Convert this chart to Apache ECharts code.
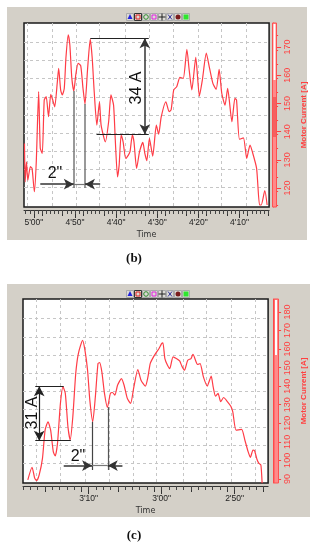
<!DOCTYPE html>
<html><head><meta charset="utf-8">
<style>html,body{margin:0;padding:0;background:#fff}#c{width:316px;height:550px}</style>
<script src="https://cdn.jsdelivr.net/npm/echarts@6/dist/echarts.min.js"></script>
</head><body><div id="c"></div>
<script>
// Panel (b)
const timeB = [302.28,302.12,301.8,301.48,300.84,300.44,299.88,299.4,298.84,298.44,297.96,297.48,297,296.44,295.89,295.41,294.93,294.29,293.97,293.49,293.09,292.61,292.21,291.65,291.25,290.77,290.29,289.81,289.25,288.61,288.05,287.57,286.93,286.29,285.81,285.33,284.69,284.05,283.65,282.62,281.82,281.26,280.62,280.22,279.66,279.26,278.78,278.3,277.66,277.02,276.62,276.06,275.66,275.02,274.3,273.5,273.02,272.54,271.9,271.1,270.22,269.66,269.02,267.9,267.11,266.63,265.99,265.27,264.47,263.67,262.79,262.23,261.59,260.63,259.75,259.03,258.07,257.27,256.47,255.67,254.95,254.31,253.52,252.88,251.84,251.12,250.72,250,249.04,248.24,247.44,246.88,245.84,245.12,244.72,243.84,243.28];
const currentB = [135.8,122.2,129.3,122.8,127.6,127,118.7,129.9,154.2,134.1,132.3,151.2,152.4,145.3,153.2,151.2,148.8,157.7,162.4,154.8,153,155.3,166,174.3,170.7,158.9,154.4,160.1,164.2,163.4,155.3,149.7,162.4,172.8,166,154.2,142.3,150.6,142.3,136.4,143.5,153,149.4,137.6,124,128.2,138.8,136.4,130.5,131.7,132.9,138.8,136.4,127,132.9,136.2,132.3,129.7,137.6,131.3,142.3,139.1,145.3,150.6,147.1,147.7,154.8,155.9,159.2,158.9,169.2,161.8,154.8,166.3,152.6,158.3,167.8,162.4,157.1,155,162.1,153.6,149.4,155.3,143.5,151.8,151.2,137.3,137.8,130.5,135.2,132.9,127,114,114,119.1,114];
const timeTicksB = [300,290,280,270,260,250];
const timeLabelsB = ['5\'00"','4\'50"','4\'40"','4\'30"','4\'20"','4\'10"'];
const currentTicksB = [120,130,140,150,160,170];
const gridTimesB = [301.56,295.56,289.81,284.05,277.82,272.06,266.07,260.07,254.32,248.32];
const gridCurrentsB = [171.8,165.4,159,152.3,145.9,139.5,133.1,126.7,120.4];
// Panel (c)
const timeC = [198.34,197.76,197.4,197.13,196.78,196.33,195.97,195.57,195.21,194.85,194.58,194.27,193.87,193.51,193.2,192.84,192.53,192.17,191.77,191.41,190.83,190.51,190.15,189.84,189.44,189.08,188.72,188.5,188.19,187.83,187.43,187.02,186.75,186.4,186.04,185.5,185.14,184.7,184.25,183.8,183.26,182.82,182.23,181.87,181.56,181.11,180.67,180.35,180,179.82,179.55,179.19,178.88,178.43,177.98,177.53,177.22,176.86,176.42,175.97,175.7,175.07,174.72,174.27,173.73,173.51,173.2,172.93,172.61,172.26,171.9,171.5,170.96,170.51,170.24,169.79,169.03,168.59,168.14,167.83,167.47,167.25,166.93,166.66,166.39,166.22];
const currentC = [89.5,96.3,90.4,89.1,92.2,101.1,116.3,120.8,116.3,104.7,102.4,109.2,130.7,139.6,136.1,118.1,111,123.5,146.8,157.6,164.7,159.4,148.6,132.5,120.8,134.3,152.2,152.7,147.7,136.1,128.5,136.1,136.6,135.2,140.5,144.1,140.5,133.4,130.7,139.6,149,143.2,140,145,152.2,155.8,158.5,160.3,162.9,163.3,154.9,151.3,149.5,155.8,154.9,153.6,150.8,148.6,154,154.9,157.2,151.7,152.2,145,140,142.3,145.4,139.6,134.6,136.1,131.6,133.9,131.6,129.2,126.2,116.3,116.7,111,104.7,101.6,105.6,105.2,100.6,98.4,97.5,87.7];
const timeTicksC = [190,180,170];
const timeLabelsC = ['3\'10"','3\'00"','2\'50"'];
const currentTicksC = [90,100,110,120,130,140,150,160,170,180];
const gridTimesC = [197.18,193.83,190.47,187.11,183.89,180.67,177.05,173.83,170.47,167.11];
const gridCurrentsC = [176.6,166.3,156.7,147,137.3,127.6,118,108.3,98.6];

const RED = '#ff4040', GRAY = '#d4d0c8', DARK = '#666';
const seq = (a, b, s) => { const r = []; for (let v = a; v <= b + 1e-6; v += s) r.push(v); return r; };

function hline(t1, t2, i, w, arrowEnd, color) {
  return [{coord:[t1,i],symbol:'none',lineStyle:{color:color||'#222',width:w,type:'solid'}},
          {coord:[t2,i],symbol:arrowEnd?'arrow':'none',symbolSize:[8,10]}];
}
function vline(t, i1, i2, w, arrowStart, arrowEnd, color) {
  return [{coord:[t,i1],symbol:arrowStart?'arrow':'none',symbolSize:[8,10],lineStyle:{color:color||DARK,width:w,type:'solid'}},
          {coord:[t,i2],symbol:arrowEnd?'arrow':'none',symbolSize:[8,10]}];
}
const annotB = [
  hline(286.28,272.06,173.1,1),
  hline(284.77,272.06,139.1,1),
  vline(273.02,173.1,139.1,1.5,true,true,'#333'),
  vline(290.29,154.4,120,1.5,false,false,'#777'),
  vline(287.58,149.8,120,1.5,false,false,'#777'),
  hline(298.44,290.29,121.4,1.5,true,'#333'),
  hline(283.88,287.58,121.4,1.5,true,'#333'),
  hline(290.29,287.58,121.4,1.2,false,'#777')
];
const annotC = [
  hline(197.32,193.42,140,1),
  hline(197.32,192.44,110.6,1),
  vline(196.78,140,110.6,1.2,true,true,'#222'),
  vline(189.53,120.8,94.8,1.2,false,false,'#444'),
  vline(187.38,128.7,94.8,1.2,false,false,'#555'),
  hline(193.42,189.53,97.2,1.5,true,'#333'),
  hline(185.37,187.38,97.2,1.5,true,'#333'),
  hline(189.53,187.38,97.2,1.2,false,'#777')
];

const FONT = 'Liberation Sans';
const grids = [], xAxes = [], yAxes = [], series = [];
function panel(o) {
  const g = grids.length;
  grids.push({left:o.l,top:o.t,width:o.r-o.l,height:o.b-o.t,show:true,backgroundColor:'#fff',borderColor:'#1a1a1a',borderWidth:1.5,containLabel:false});
  const xBase = {gridIndex:g,type:'value',inverse:true,min:o.tMin,max:o.tMax,position:'bottom',splitLine:{show:false},axisLabel:{show:false},axisLine:{show:false},axisTick:{show:false},silent:true};
  const yBase = {gridIndex:g,type:'value',min:o.iMin,max:o.iMax,position:'right',splitLine:{show:false},axisLabel:{show:false},axisLine:{show:false},axisTick:{show:false},silent:true};
  const xi = xAxes.length, yi = yAxes.length;
  xAxes.push(Object.assign({},xBase,{offset:3,
    name:'Time',nameLocation:'middle',nameGap:21,nameTextStyle:{color:'#333',fontFamily:'DejaVu Sans',fontSize:8},
    axisLine:{show:true,onZero:false,lineStyle:{color:'#333',width:1}},
    axisTick:{show:true,length:8,customValues:o.timeTicks,lineStyle:{color:'#333',width:1}},
    axisLabel:{show:true,margin:8,customValues:o.timeTicks,color:'#222',fontFamily:FONT,fontSize:8.5,hideOverlap:false,
      formatter:v=>o.timeLabels[o.timeTicks.indexOf(v)]||''}}));
  xAxes.push(Object.assign({},xBase,{offset:3,axisTick:{show:true,length:6,customValues:seq(o.tStart,o.tEnd,5),lineStyle:{color:'#333',width:1}}}));
  xAxes.push(Object.assign({},xBase,{offset:3,axisTick:{show:true,length:4,customValues:seq(o.tStart,o.tEnd,1),lineStyle:{color:'#444',width:1}}}));
  xAxes.push(Object.assign({},xBase,{axisTick:{show:false,customValues:o.gridTimes},splitLine:{show:true,lineStyle:{color:'#c6c6c6',type:[3,3],width:1}}}));
  yAxes.push(Object.assign({},yBase,{offset:o.yOff,
    name:'Motor Current [A]',nameLocation:'middle',nameRotate:90,nameGap:o.nameGap,nameTextStyle:{color:RED,fontFamily:FONT,fontWeight:'bold',fontSize:8},
    axisLine:{show:true,onZero:false,lineStyle:{color:RED,width:1}},
    axisTick:{show:true,length:8,customValues:o.currentTicks,lineStyle:{color:RED,width:1}},
    axisLabel:{show:true,margin:10,rotate:90,customValues:o.currentTicks,color:RED,fontFamily:FONT,fontSize:9,hideOverlap:false,
      formatter:v=>String(v)}}));
  yAxes.push(Object.assign({},yBase,{offset:o.yOff,axisTick:{show:true,length:5,customValues:seq(o.iStart,o.iEnd,5),lineStyle:{color:RED,width:1}}}));
  yAxes.push(Object.assign({},yBase,{offset:o.yOff,axisTick:{show:true,length:3,customValues:seq(o.iStart,o.iEnd,o.iMinor),lineStyle:{color:RED,width:1}}}));
  yAxes.push(Object.assign({},yBase,{axisTick:{show:false,customValues:o.gridCurrents},splitLine:{show:true,lineStyle:{color:'#c6c6c6',type:[3,3],width:1}}}));
  series.push({type:'line',xAxisIndex:xi,yAxisIndex:yi,data:o.times.map((t,i)=>[t,o.currents[i]]),
    showSymbol:false,symbol:'none',smooth:0.2,lineStyle:{color:'#ff3c46',width:1.2},animation:false,silent:true,z:3});
  series.push({type:'line',xAxisIndex:xi,yAxisIndex:yi,data:[],animation:false,silent:true,z:4,
    markLine:{silent:true,animation:false,symbolSize:[8,10],label:{show:false},data:o.annot}});
}
panel({l:24,t:23,r:272,b:207,tMin:242.8,tMax:302.4,iMin:113.3,iMax:178.5,tStart:243,tEnd:302,iStart:114,iEnd:178,iMinor:2,yOff:4,nameGap:21,
  times:timeB,currents:currentB,timeTicks:timeTicksB,timeLabels:timeLabelsB,currentTicks:currentTicksB,gridTimes:gridTimesB,gridCurrents:gridCurrentsB,annot:annotB});
panel({l:23,t:299,r:273,b:483,tMin:165.4,tMax:199,tStart:166,tEnd:199,iMin:87.8,iMax:187,iStart:88,iEnd:186,iMinor:2,yOff:5,nameGap:22,
  times:timeC,currents:currentC,timeTicks:timeTicksC,timeLabels:timeLabelsC,currentTicks:currentTicksC,gridTimes:gridTimesC,gridCurrents:gridCurrentsC,annot:annotC});

// decoration
const gfx = [];
const rect = (x,y,w,h,fill,z,stroke)=>gfx.push({type:'rect',z:z,silent:true,shape:{x,y,width:w,height:h},style:{fill,stroke:stroke||null,lineWidth:stroke?1:0}});
rect(7,7,300,233,GRAY,-5);
rect(7,284,303,233,GRAY,-5);
function toolbar(y){
  const xs=[130,138,146,154,162,170,178,186];
  xs.forEach((x,i)=>rect(x-3.5,y-3.5,7,7,'#dcdad4',5,i===1?'#333':'#aaa'));
  gfx.push({type:'polygon',z:6,silent:true,shape:{points:[[130,y-3],[127.5,y+2],[132.5,y+2]]},style:{fill:'#2222dd'}});
  rect(136,y-2,4,4,'none',6,'#e02020');
  gfx.push({type:'circle',z:6,silent:true,shape:{cx:146,cy:y,r:2.3},style:{fill:'none',stroke:'#2e8b2e',lineWidth:1}});
  rect(152,y-2,4,4,'none',6,'#e020e0');
  gfx.push({type:'line',z:6,silent:true,shape:{x1:158.5,y1:y,x2:165.5,y2:y},style:{stroke:'#222',lineWidth:1}});
  gfx.push({type:'line',z:6,silent:true,shape:{x1:162,y1:y-3.5,x2:162,y2:y+3.5},style:{stroke:'#222',lineWidth:1}});
  gfx.push({type:'line',z:6,silent:true,shape:{x1:168,y1:y-2.5,x2:172,y2:y+2.5},style:{stroke:'#33339a',lineWidth:1}});
  gfx.push({type:'line',z:6,silent:true,shape:{x1:172,y1:y-2.5,x2:168,y2:y+2.5},style:{stroke:'#33339a',lineWidth:1}});
  gfx.push({type:'circle',z:6,silent:true,shape:{cx:178,cy:y,r:2.5},style:{fill:'#7a1c1c'}});
  rect(183.5,y-2.5,5,5,'#2ee62e',6);
}
toolbar(17); toolbar(294);
// current-range scroll strips
rect(272.5,23,4,184,'#ff8a8a',6,'#ff5050');
rect(273.5,24,2,56,'#ffffff',7);
rect(273,97,3,40,'#f46060',7);
rect(274,299,4.5,184,'#ff8a8a',6,'#ff5050');
rect(275,300,2,55,'#ffffff',7);
function txt(text,x,y,font,rot,fill){
  gfx.push({type:'text',z:50,silent:true,x,y,rotation:rot||0,style:{text,font,fill:fill||'#111',textAlign:'center',textVerticalAlign:'middle'}});
}
txt('34 A',137,88,'16px "Liberation Sans"',Math.PI/2);
txt('2"',55,174,'16px "Liberation Sans"');
txt('31 A',33,413,'16px "Liberation Sans"',Math.PI/2);
txt('2"',78,457,'16px "Liberation Sans"');
txt('(b)',134,259,'bold 13px "Liberation Serif"');
txt('(c)',134,536,'bold 13px "Liberation Serif"');

const chart = echarts.init(document.getElementById('c'),null,{renderer:'canvas'});
chart.setOption({animation:false,backgroundColor:'#fff',grid:grids,xAxis:xAxes,yAxis:yAxes,series,graphic:{elements:gfx}});
</script></body></html>
